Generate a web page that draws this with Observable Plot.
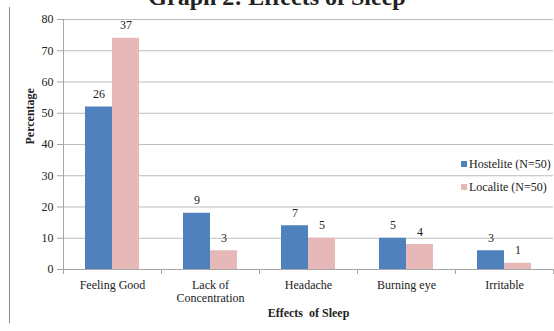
<!DOCTYPE html>
<html>
<head>
<meta charset="utf-8">
<script src="https://cdn.jsdelivr.net/npm/d3@7"></script>
<script src="https://cdn.jsdelivr.net/npm/@observablehq/plot@0.6"></script>
<style>
  html, body { margin: 0; padding: 0; background: #fff; overflow: hidden; }
  #wrap { position: relative; width: 554px; height: 331px; font-family: "Liberation Serif", "Times New Roman", serif; color: #222; }
  #title { position: absolute; left: 0; width: 554px; top: -15px; text-align: center; font-size: 24px; line-height: 24px; font-weight: bold; padding-left: 0; box-sizing: border-box; }
  #frameline { position: absolute; left: 9px; top: 7px; height: 316px; border-left: 1px solid #8c8c8c; }
  #legend { position: absolute; left: 461px; top: 153px; font-size: 12px; line-height: 23px; }
  #legend .sw { display: inline-block; width: 6px; height: 6px; margin-right: 2px; vertical-align: 1px; }
  svg { position: absolute; left: 0; top: 0; }
</style>
</head>
<body>
<div id="wrap">
  <div id="frameline"></div>
  <div id="title"></div>
  <div id="chart"></div>
  <div id="legend"></div>
</div>
<script>
const title = "Graph 2: Effects of Sleep";
const categories = ["Feeling Good", "Lack of\nConcentration", "Headache", "Burning eye", "Irritable"];
const seriesNames = ["Hostelite (N=50)", "Localite (N=50)"];
const hostelitePct = [52, 18, 14, 10, 6];
const localitePct = [74, 6, 10, 8, 2];
const hosteliteCount = [26, 9, 7, 5, 3];
const localiteCount = [37, 3, 5, 4, 1];
const yTicks = [0, 10, 20, 30, 40, 50, 60, 70, 80];
const yLabel = "Percentage";
const xLabel = "Effects  of Sleep";
const colors = ["#4f81bd", "#e6b9b8"];

const hostData = categories.map((c, i) => ({cat: c, value: hostelitePct[i], n: hosteliteCount[i]}));
const locData = categories.map((c, i) => ({cat: c, value: localitePct[i], n: localiteCount[i]}));

document.getElementById("title").textContent = title;
const legend = document.getElementById("legend");
seriesNames.forEach((s, i) => {
  const row = document.createElement("div");
  const sw = document.createElement("span");
  sw.className = "sw"; sw.style.background = colors[i];
  row.appendChild(sw);
  row.appendChild(document.createTextNode(s));
  legend.appendChild(row);
});

const font = "Liberation Serif";
const chart = Plot.plot({
  width: 554,
  height: 331,
  marginLeft: 63,
  marginRight: 1,
  marginTop: 19,
  marginBottom: 62,
  style: {fontFamily: font, fontSize: "12px", color: "#222", background: "transparent"},
  x: {domain: categories, paddingInner: 0, paddingOuter: 0, axis: null},
  y: {domain: [0, 80], axis: null},
  marks: [
    Plot.gridY(yTicks, {stroke: "#bdbdbd", strokeOpacity: 1}),
    Plot.axisY({ticks: yTicks, tickSize: 6, tickPadding: 4, stroke: "#a6a6a6", label: null, fill: "#222", fontSize: 12}),
    Plot.barY(hostData, {x: "cat", y: "value", fill: colors[0], insetLeft: 22, insetRight: 49}),
    Plot.barY(locData, {x: "cat", y: "value", fill: colors[1], insetLeft: 49, insetRight: 22}),
    Plot.text(hostData, {x: "cat", y: "value", text: "n", dx: -13.5, dy: -9, lineAnchor: "bottom", fill: "#222", fontSize: 12}),
    Plot.text(locData, {x: "cat", y: "value", text: "n", dx: 13.5, dy: -9, lineAnchor: "bottom", fill: "#222", fontSize: 12}),
    Plot.ruleY([0], {stroke: "#a6a6a6"}),
    Plot.frame({anchor: "left", stroke: "#a6a6a6"}),
    Plot.axisX({tickSize: 5, tickFormat: () => "", dx: -49, stroke: "#a6a6a6", label: null}),
    Plot.axisX({ticks: [categories[categories.length - 1]], tickSize: 5, tickFormat: () => "", dx: 49, stroke: "#a6a6a6", label: null}),
    Plot.axisX({tickSize: 0, tickPadding: 10, label: null, fill: "#222", fontSize: 12, lineHeight: 1.1}),
    Plot.text([yLabel], {frameAnchor: "left", dx: -33, rotate: -90, fontWeight: "bold", fontSize: 12, fill: "#222"}),
    Plot.text([xLabel], {frameAnchor: "bottom", dy: 47, fontWeight: "bold", fontSize: 12, fill: "#222"})
  ]
});
document.getElementById("chart").appendChild(chart);
</script>
</body>
</html>
